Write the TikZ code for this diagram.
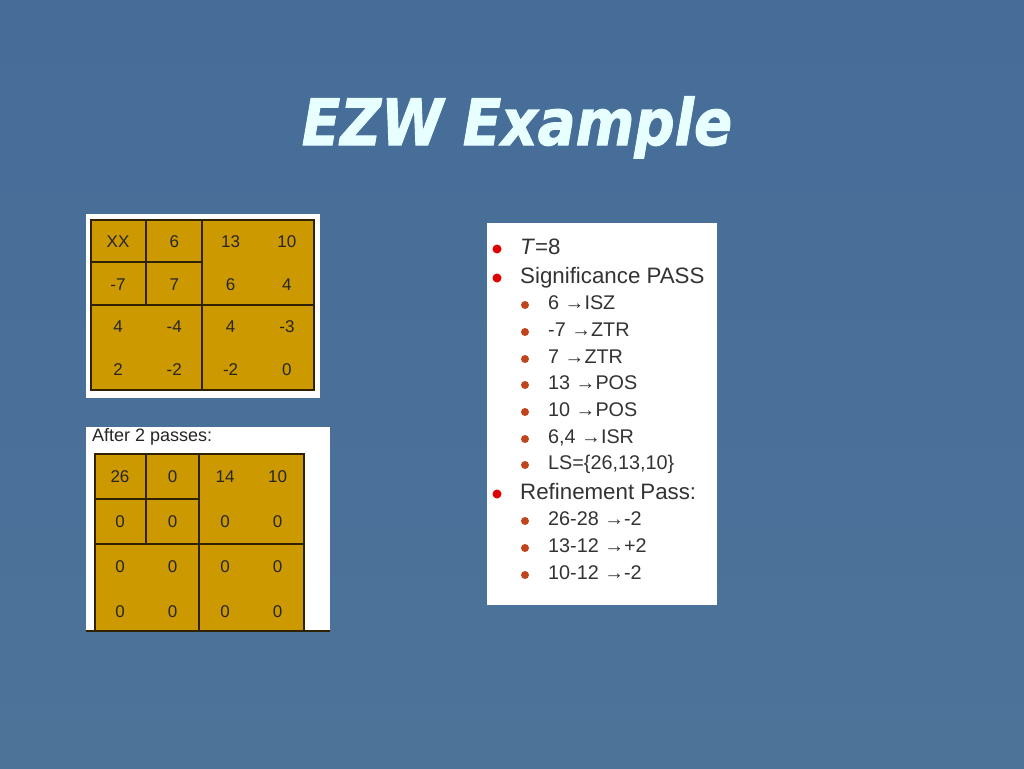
\documentclass[tikz,border=0pt]{standalone}
\usepackage{fontspec}
\setmainfont{Liberation Sans}
\newfontfamily\titlefont{DejaVu Sans}[FakeBold=1.6]
\definecolor{slidetop}{HTML}{456D98}
\definecolor{slidebot}{HTML}{4D7399}
\definecolor{titlecyan}{HTML}{E8FFFF}
\definecolor{cellgold}{HTML}{CC9900}
\definecolor{gridline}{HTML}{2E2200}
\definecolor{dotred}{HTML}{E00000}
\definecolor{dotbrown}{HTML}{C2441C}
\tikzset{
  panel/.style={fill=white,draw=none},
  cell/.style={font=\fontsize{17}{17}\selectfont,text=black!85},
  grid/.style={draw=gridline,line width=1.5pt},
  itemone/.style={anchor=base west,font=\fontsize{22.3}{22.3}\selectfont,text=black!80,inner sep=0pt},
  itemtwo/.style={anchor=base west,font=\fontsize{19.8}{19.8}\selectfont,text=black!80,inner sep=0pt},
}
\begin{document}
\begin{tikzpicture}[x=1pt,y=-1pt]
	\useasboundingbox (0,0) rectangle (1024,768);
	\shade[top color=slidetop,bottom color=slidebot] (0,0) rectangle (1024,768);
	\node[anchor=base,text=titlecyan,font=\titlefont\bfseries\itshape\fontsize{64}{64}\selectfont] (title) at (517,145) {\scalebox{0.88}[1]{EZW Example}};
	% first table
	\fill[panel] (86,214) rectangle (320,398);
	\fill[cellgold] (91,220) rectangle (314,390);
	\draw[grid] (91,220) rectangle (314,390);
	\draw[grid] (146,220) -- (146,305);
	\draw[grid] (202,220) -- (202,390);
	\draw[grid] (91,262) -- (202,262);
	\draw[grid] (91,305) -- (314,305);
	\foreach \row [count=\r] in {{XX,6,13,10},{-7,7,6,4},{4,-4,4,-3},{2,-2,-2,0}}
	\foreach \v [count=\c] in \row
	\node[cell] (a\r\c) at ({118+56.3*(\c-1)},{242+42.4*(\r-1)}) {\v};
	% second table
	\fill[panel] (86,427) rectangle (330,631);
	\node[anchor=base west,inner sep=0pt,font=\fontsize{18}{18}\selectfont,text=black!85] (after) at (92,441) {After 2 passes:};
	\fill[cellgold] (95,454) rectangle (304,631);
	\draw[grid] (95,631) -- (95,454) -- (304,454) -- (304,631);
	\draw[grid] (86,631) -- (330,631);
	\draw[grid] (146,454) -- (146,544);
	\draw[grid] (199,454) -- (199,631);
	\draw[grid] (95,499) -- (199,499);
	\draw[grid] (95,544) -- (304,544);
	\foreach \row [count=\r] in {{26,0,14,10},{0,0,0,0},{0,0,0,0},{0,0,0,0}}
	\foreach \v [count=\c] in \row
	\node[cell] (b\r\c) at ({120+52.5*(\c-1)},{477+45*(\r-1)}) {\v};
	% passes
	\fill[panel] (487,223) rectangle (717,605);
	\foreach \t/\y [count=\i] in {{\textit{T}=8}/254,{Significance PASS}/283,{Refinement Pass:}/499}{
		\fill[dotred] (497,{\y-5}) circle (4.5pt);
		\node[itemone] (one\i) at (520,\y) {\t};
	}
	\foreach \t/\y [count=\i] in {{6 →ISZ}/309,{-7 →ZTR}/336,{7 →ZTR}/363,{13 →POS}/389,{10 →POS}/416,{6,4 →ISR}/443,{LS=\{26,13,10\}}/469,{26-28 →-2}/525,{13-12 →+2}/552,{10-12 →-2}/579}{
		\fill[dotbrown] (525,{\y-4}) circle (4pt);
		\node[itemtwo] (two\i) at (548,\y) {\t};
	}
\end{tikzpicture}
\end{document}
